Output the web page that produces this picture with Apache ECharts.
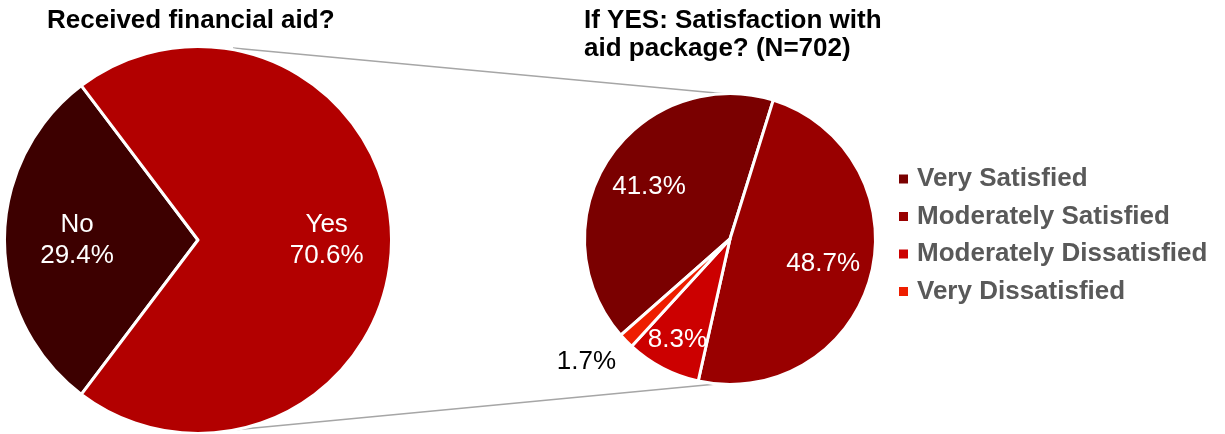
<!DOCTYPE html>
<html>
<head>
<meta charset="utf-8">
<script src="https://cdn.jsdelivr.net/npm/echarts@6/dist/echarts.min.js"></script>
<style>
  html, body { margin: 0; padding: 0; background: #fff; }
  #chart { width: 1225px; height: 434px; }
</style>
</head>
<body>
<div id="chart"></div>
<script>
// Financial aid survey: who received aid, and how satisfied recipients were
const aidCategories = ['No', 'Yes'];
const aidShares = [29.4, 70.6];

const satisfactionCategories = ['Very Satisfied', 'Moderately Satisfied', 'Moderately Dissatisfied', 'Very Dissatisfied'];
const satisfactionShares = [41.3, 48.7, 8.3, 1.7];

const leftTitle = 'Received financial aid?';
const rightTitle = 'If YES: Satisfaction with\naid package? (N=702)';

// Styling
const FONT = '"Liberation Sans", Arial, Helvetica, sans-serif';
const aidColors = ['#3d0000', '#b20000'];
const satisfactionColors = ['#7a0000', '#990000', '#cc0000', '#ee1e00'];

// Pie geometry (pixels)
const L = { cx: 198, cy: 240, r: 192 };
const R = { cx: 730, cy: 239, r: 144 };
// Label distance from centre as a fraction of radius, plus small angle nudge (deg)
const aidLabelSpots = [[0.63, 0], [0.67, 0]];
const satLabelSpots = [[0.67, 0], [0.67, 0], [0.79, 0], [1.31, -4]];

const sum = a => a.reduce((s, v) => s + v, 0);

// "No" centred on the 9 o'clock direction
const aidStart = 180 + aidShares[0] / sum(aidShares) * 180;
// "Moderately Satisfied" starts 17.3 deg clockwise from 12 o'clock
const satStart = (90 - 17.3) + satisfactionShares[0] / sum(satisfactionShares) * 360;

function labelPlacer(values, startAngle, geo, spots) {
  const total = sum(values);
  return function (p) {
    const i = p.dataIndex;
    let acc = 0;
    for (let k = 0; k < i; k++) acc += values[k];
    const midDeg = startAngle - (acc + values[i] / 2) / total * 360 + spots[i][1];
    const a = midDeg * Math.PI / 180;
    const rr = geo.r * spots[i][0];
    return {
      x: geo.cx + rr * Math.cos(a),
      y: geo.cy - rr * Math.sin(a),
      align: 'center',
      verticalAlign: 'middle'
    };
  };
}

const chart = echarts.init(document.getElementById('chart'), null, { renderer: 'canvas' });

const option = {
  backgroundColor: '#ffffff',
  animation: false,
  title: [
    {
      text: leftTitle,
      left: 47, top: 7, padding: 0,
      textStyle: { fontFamily: FONT, fontSize: 26, fontWeight: 'bold', color: '#000000', lineHeight: 28 }
    },
    {
      text: rightTitle,
      left: 584, top: 7, padding: 0,
      textStyle: { fontFamily: FONT, fontSize: 26, fontWeight: 'bold', color: '#000000', lineHeight: 28 }
    }
  ],
  legend: {
    orient: 'vertical',
    left: 899, top: 164,
    padding: 0,
    itemWidth: 9, itemHeight: 9,
    itemGap: 7.5,
    icon: 'rect',
    data: satisfactionCategories,
    selectedMode: false,
    itemStyle: { borderWidth: 0 },
    textStyle: {
      fontFamily: FONT, fontSize: 26, fontWeight: 'bold', color: '#595959',
      lineHeight: 30, padding: [0, 0, 0, 4]
    }
  },
  graphic: [
    {
      type: 'line', z: 0,
      shape: { x1: L.cx + 35, y1: L.cy - L.r, x2: R.cx - 3, y2: R.cy - R.r - 1 },
      style: { stroke: '#a6a6a6', lineWidth: 1.5 }
    },
    {
      type: 'line', z: 0,
      shape: { x1: L.cx + 35, y1: L.cy + L.r - 2, x2: R.cx - 3, y2: R.cy + R.r },
      style: { stroke: '#a6a6a6', lineWidth: 1.5 }
    }
  ],
  series: [
    {
      type: 'pie',
      name: 'Received financial aid',
      center: [L.cx, L.cy],
      radius: [0, L.r + 1.5],
      startAngle: aidStart,
      clockwise: true,
      legendHoverLink: false,
      silent: true,
      data: aidCategories.map((c, i) => ({ name: c, value: aidShares[i], itemStyle: { color: aidColors[i] } })),
      itemStyle: { borderColor: '#ffffff', borderWidth: 3 },
      label: {
        show: true,
        position: 'inside',
        formatter: p => p.name + '\n' + p.value.toFixed(1) + '%',
        fontFamily: FONT, fontSize: 26, color: '#ffffff', lineHeight: 31
      },
      labelLine: { show: false },
      labelLayout: labelPlacer(aidShares, aidStart, L, aidLabelSpots)
    },
    {
      type: 'pie',
      name: 'Satisfaction with aid package',
      center: [R.cx, R.cy],
      radius: [0, R.r + 1.5],
      startAngle: satStart,
      clockwise: true,
      silent: true,
      data: satisfactionCategories.map((c, i) => ({
        name: c,
        value: satisfactionShares[i],
        itemStyle: { color: satisfactionColors[i] },
        label: i === 3 ? { color: '#000000' } : undefined
      })),
      itemStyle: { borderColor: '#ffffff', borderWidth: 3 },
      label: {
        show: true,
        position: 'inside',
        formatter: p => p.value.toFixed(1) + '%',
        fontFamily: FONT, fontSize: 26, color: '#ffffff'
      },
      labelLine: { show: false },
      labelLayout: labelPlacer(satisfactionShares, satStart, R, satLabelSpots)
    }
  ]
};

chart.setOption(option);
</script>
</body>
</html>
